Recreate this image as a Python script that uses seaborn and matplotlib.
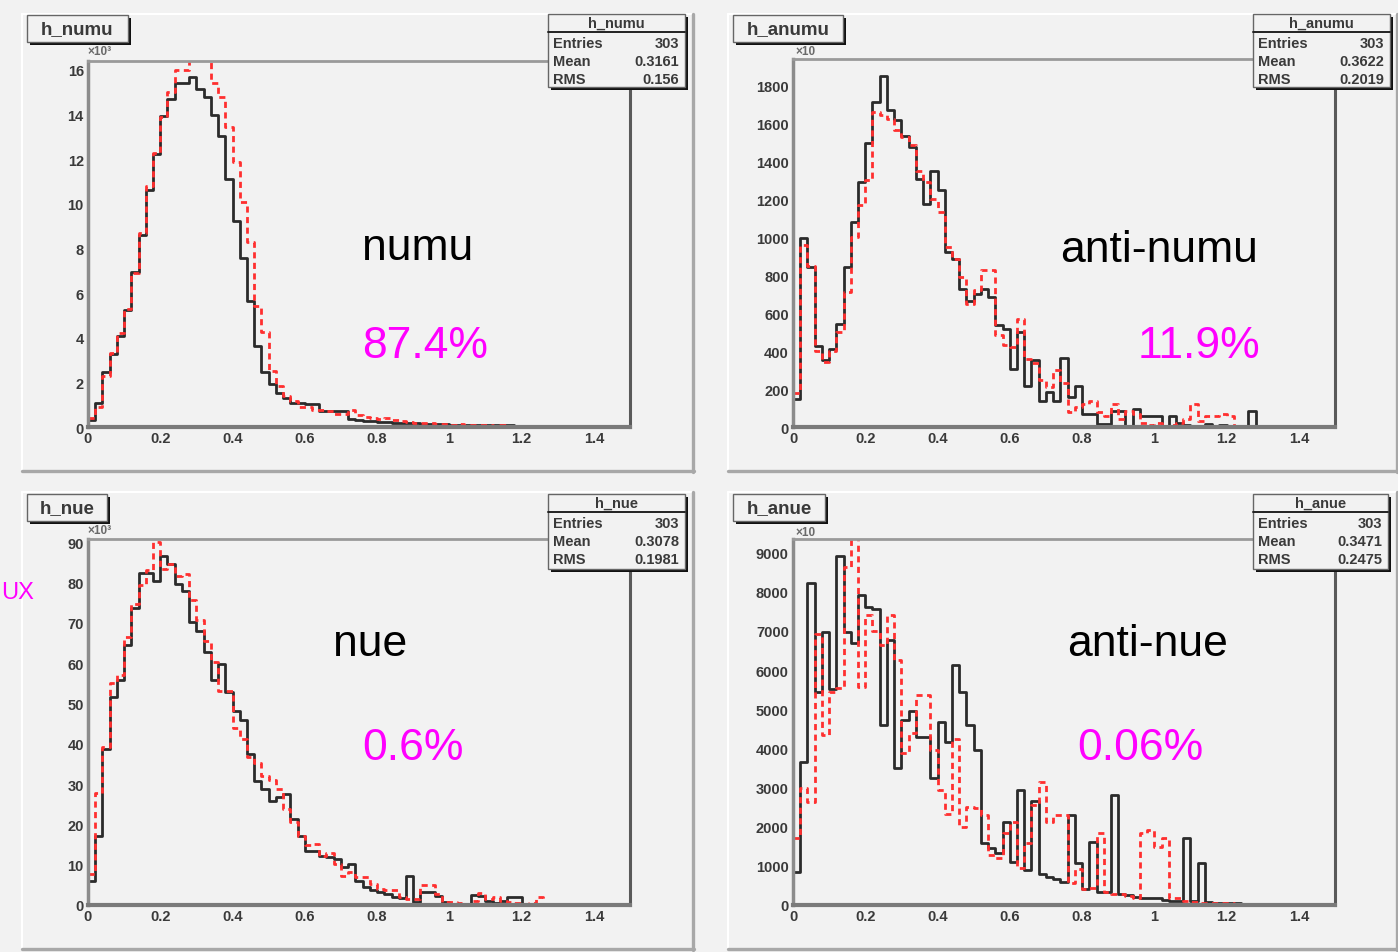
import numpy as np
import pandas as pd
import matplotlib
matplotlib.use("Agg")
import matplotlib.pyplot as plt
import seaborn as sns
from matplotlib.patches import Rectangle
from matplotlib.lines import Line2D
from matplotlib.ticker import MultipleLocator, FuncFormatter

# ------------------------------------------------------------------ data
bin_edges = [round(v, 3) for v in np.linspace(0.0, 1.5, 76)]      # 75 bins of 0.02
bin_centers = [round(0.5 * (a + b), 3) for a, b in zip(bin_edges[:-1], bin_edges[1:])]

# h_numu  (x10^3)
numu_black = [0.3, 1.08, 2.45, 3.27, 4.1, 5.26, 6.94, 8.6, 10.6, 12.24,
              13.93, 14.68, 15.43, 15.43, 15.7, 15.16, 14.77, 14.0, 13.06, 11.12,
              9.22, 7.56, 5.66, 3.65, 2.45, 1.93, 1.52, 1.29, 1.08, 1.08,
              1.05, 1.05, 0.73, 0.73, 0.72, 0.7, 0.36, 0.32, 0.28, 0.26,
              0.24, 0.22, 0.2, 0.2, 0.18, 0.17, 0.15, 0.14, 0.13, 0.12,
              0.11, 0.1, 0.1, 0.09, 0.09, 0.08, 0.08, 0.07, 0.07, 0.06,
              0.06, 0.06, 0.05, 0.05, 0.05, 0.04, 0.04, 0.04, 0.04, 0.03,
              0.03, 0.03, 0.03, 0.02, 0.02]
numu_red = [0.4, 0.9, 2.3, 3.3, 4.2, 5.3, 6.9, 8.7, 10.8, 12.3,
            13.9, 15.0, 16.0, 16.0, 16.5, 16.5, 16.5, 15.43, 14.78, 13.44,
            11.87, 10.1, 8.3, 5.44, 4.25, 2.53, 1.85, 1.4, 1.18, 0.88,
            0.88, 0.78, 0.78, 0.72, 0.6, 0.6, 0.75, 0.55, 0.45, 0.4,
            0.35, 0.4, 0.3, 0.25, 0.22, 0.2, 0.18, 0.16, 0.14, 0.12,
            0.1, 0.12, 0.1, 0.08, 0.1, 0.08, 0.06, 0.08, 0.06, 0.05,
            0.05, 0.05, 0.04, 0.05, 0.04, 0.03, 0.04, 0.03, 0.03, 0.03,
            0.02, 0.03, 0.02, 0.02, 0.02]

# h_anumu (x10)
anumu_black = [150, 996, 843, 429, 355, 412, 544, 843, 1080, 1292,
               1499, 1714, 1850, 1670, 1621, 1535, 1477, 1306, 1174, 1350,
               1248, 922, 887, 729, 662, 702, 725, 685, 538, 517,
               306, 503, 215, 355, 139, 183, 139, 364, 157, 218,
               69, 69, 16, 16, 86, 86, 0, 95, 60, 56,
               56, 0, 56, 20, 10, 0, 0, 15, 0, 10,
               0, 0, 0, 86, 0, 0, 0, 0, 0, 0,
               0, 0, 0, 0, 0]
anumu_red = [180, 960, 850, 400, 345, 400, 500, 711, 1000, 1170,
             1300, 1661, 1644, 1626, 1565, 1529, 1485, 1350, 1292, 1200,
             1133, 948, 887, 790, 650, 720, 830, 830, 485, 430,
             420, 570, 359, 340, 250, 210, 300, 230, 80, 104,
             120, 139, 77, 60, 120, 40, 86, 70, 20, 10,
             20, 0, 10, 20, 40, 120, 30, 60, 60, 69,
             60, 5, 5, 5, 5, 5, 5, 5, 5, 5,
             5, 5, 5, 5, 5]

# h_nue (x10^3)
nue_black = [6.0, 17.2, 38.7, 51.7, 55.9, 64.4, 73.7, 82.3, 82.3, 80.3,
             86.5, 84.6, 79.7, 77.9, 70.3, 67.9, 62.7, 55.9, 59.8, 52.8,
             48.1, 45.8, 37.5, 30.7, 28.8, 25.8, 26.9, 27.6, 21.4, 17.0,
             13.5, 13.5, 12.2, 12.0, 11.3, 9.4, 10.2, 6.0, 4.4, 3.6,
             3.2, 2.7, 1.9, 1.7, 7.1, 0.7, 3.3, 3.3, 2.3, 0.7,
             0.3, 0.3, 0.3, 2.5, 2.3, 1.1, 0.5, 1.1, 1.9, 1.9,
             0.3, 0.2, 0.2, 0.2, 0.2, 0.1, 0.1, 0.1, 0.1, 0.1,
             0.1, 0.1, 0.1, 0.1, 0.1]
nue_red = [7.7, 27.7, 39.2, 55.0, 57.0, 66.4, 74.7, 79.5, 83.0, 90.0,
           83.4, 84.5, 81.7, 82.0, 75.7, 70.6, 65.6, 60.2, 53.0, 53.2,
           44.0, 41.2, 36.7, 35.2, 31.9, 31.0, 28.8, 23.9, 20.5, 17.2,
           14.8, 15.1, 12.2, 12.9, 10.2, 7.3, 8.1, 6.9, 6.9, 5.2,
           4.0, 3.6, 3.6, 1.9, 1.5, 1.5, 5.0, 5.0, 2.7, 0.7,
           0.7, 0.4, 0.3, 1.0, 3.0, 1.5, 1.9, 1.0, 0.8, 0.5,
           0.3, 0.5, 1.9, 0.3, 0.2, 0.2, 0.2, 0.2, 0.2, 0.2,
           0.2, 0.2, 0.2, 0.2, 0.2]

# h_anue (x10)
anue_black = [850, 3660, 8217, 5450, 6982, 5517, 8923, 6982, 6684, 7919,
              7620, 7561, 4598, 6769, 3491, 4725, 4955, 4300, 4300, 3235,
              4683, 4172, 6130, 5432, 4598, 3959, 1575, 1447, 1319, 2128,
              1106, 2937, 894, 2656, 783, 723, 664, 596, 2298, 1064,
              408, 1617, 340, 323, 2810, 272, 255, 213, 187, 170,
              170, 128, 100, 100, 1703, 100, 1064, 85, 60, 50,
              40, 40, 30, 30, 30, 20, 20, 20, 20, 10,
              10, 10, 10, 10, 10]
anue_red = [1700, 2997, 2640, 6914, 4342, 5450, 5534, 8642, 9500, 5577,
            7408, 7000, 6641, 7408, 6258, 3874, 4385, 5364, 5364, 3959,
            2937, 2316, 4240, 2001, 2512, 2469, 2298, 1277, 1209, 1830,
            2111, 936, 1575, 2554, 3150, 2128, 2298, 2298, 553, 919,
            408, 425, 1830, 323, 272, 272, 238, 170, 1830, 1916,
            1490, 1703, 170, 170, 100, 80, 60, 50, 50, 40,
            40, 30, 30, 30, 20, 20, 20, 20, 10, 10,
            10, 10, 10, 10, 10]

hist_names = ["h_numu", "h_anumu", "h_nue", "h_anue"]
flavour_labels = ["numu", "anti-numu", "nue", "anti-nue"]
fractions = ["87.4%", "11.9%", "0.6%", "0.06%"]
stat_entries = ["303", "303", "303", "303"]
stat_means = ["0.3161", "0.3622", "0.3078", "0.3471"]
stat_rms = ["0.156", "0.2019", "0.1981", "0.2475"]
exponent_labels = ["×10³", "×10", "×10³", "×10"]
black_series = [numu_black, anumu_black, nue_black, anue_black]
red_series = [numu_red, anumu_red, nue_red, anue_red]

# ------------------------------------------------------------------ layout (pixels)
W, H = 1398, 953
BG = "#f2f2f2"
pads = [(22, 15, 694, 473), (728, 15, 1398, 473), (22, 493, 694, 951), (728, 493, 1398, 951)]
axes_px = [(88, 62, 630, 428), (793, 60, 1335, 428), (88, 540, 630, 906), (793, 540, 1335, 906)]
title_px = [(27, 16, 128, 43), (733, 16, 843, 43), (27, 495, 107, 522), (733, 495, 825, 522)]
stats_px = [(548, 15, 685, 88), (1253, 15, 1390, 88), (548, 495, 685, 570), (1253, 495, 1388, 570)]
label_px = [(362, 248), (1060, 250), (333, 645), (1067, 645)]
frac_px = [(362, 347), (1138, 347), (362, 748), (1077, 748)]
exp_px = [(88, 52), (795, 52), (88, 531), (795, 533)]
y_max = [16.4, 1940, 90.8, 9350]
y_major = [2, 200, 10, 1000]
y_minor = [0.5, 50, 2, 200]

sns.set_theme(style="white")
plt.rcParams["font.family"] = ["Liberation Sans", "DejaVu Sans"]

fig = plt.figure(figsize=(W / 100, H / 100), dpi=100)
fig.patch.set_facecolor(BG)


def X(x):
    return x / W


def Y(y):
    return 1 - y / H


def frect(x0, y0, x1, y1, **kw):
    r = Rectangle((X(x0), Y(y1)), (x1 - x0) / W, (y1 - y0) / H,
                  transform=fig.transFigure, **kw)
    fig.add_artist(r)
    return r


def fline(xs, ys, **kw):
    ln = Line2D([X(v) for v in xs], [Y(v) for v in ys], transform=fig.transFigure, **kw)
    fig.add_artist(ln)


def shadow_box(x0, y0, x1, y1, z=10, sh=3):
    frect(x0 + sh, y0 + sh, x1 + sh, y1 + sh, facecolor="#111111", edgecolor="none", zorder=z)
    frect(x0, y0, x1, y1, facecolor=BG, edgecolor="#666666", linewidth=1.0, zorder=z + 0.1)


# pads with bevel border
for (x0, y0, x1, y1) in pads:
    frect(x0, y0, x1, y1, facecolor=BG, edgecolor="none", zorder=-5)
    fline([x0, x1], [y0, y0], color="white", lw=1.5, zorder=-4)
    fline([x0, x0], [y0, y1], color="white", lw=1.5, zorder=-4)
    fline([x0, x1], [y1 - 1, y1 - 1], color="#a8a8a8", lw=2.4, zorder=-4)
    fline([x1 - 1, x1 - 1], [y0, y1], color="#a8a8a8", lw=2.4, zorder=-4)

fmt = FuncFormatter(lambda v, p: f"{v:g}")
TXT = "#3a3a3a"

for i in range(4):
    x0, y0, x1, y1 = axes_px[i]
    ax = fig.add_axes([X(x0), Y(y1), (x1 - x0) / W, (y1 - y0) / H])
    ax.set_facecolor(BG)

    df_b = pd.DataFrame({"E": bin_centers, "w": black_series[i]})
    df_r = pd.DataFrame({"E": bin_centers, "w": red_series[i]})
    sns.histplot(data=df_b, x="E", weights="w", bins=bin_edges, element="step",
                 fill=False, color="#2b2b2b", linewidth=2.0, ax=ax)
    sns.histplot(data=df_r, x="E", weights="w", bins=bin_edges, element="step",
                 fill=False, color="#ff2f2f", linewidth=2.0, linestyle=(0, (2.2, 1.6)), ax=ax)

    ax.set_xlim(0, 1.5)
    ax.set_ylim(0, y_max[i])
    ax.set_xlabel("")
    ax.set_ylabel("")
    ax.xaxis.set_major_locator(MultipleLocator(0.2))
    ax.xaxis.set_minor_locator(MultipleLocator(0.05))
    ax.yaxis.set_major_locator(MultipleLocator(y_major[i]))
    ax.yaxis.set_minor_locator(MultipleLocator(y_minor[i]))
    ax.xaxis.set_major_formatter(fmt)
    ax.yaxis.set_major_formatter(fmt)
    ax.tick_params(which="both", direction="in", top=False, right=False,
                   color="#333333", labelcolor=TXT, labelsize=10.5, width=1.5)
    ax.tick_params(axis="x", which="major", length=8.5, pad=3)
    ax.tick_params(axis="x", which="minor", length=4.3)
    ax.tick_params(axis="y", which="major", length=12, pad=3)
    ax.tick_params(axis="y", which="minor", length=6)
    for lab in ax.get_xticklabels() + ax.get_yticklabels():
        lab.set_fontweight("bold")
    ax.grid(False)
    ax.spines["left"].set(color="#8c8c8c", linewidth=2.5)
    ax.spines["bottom"].set(color="#7a7a7a", linewidth=3.0)
    ax.spines["top"].set(color="#9a9a9a", linewidth=2.0)
    ax.spines["right"].set(color="#5a5a5a", linewidth=2.2)

    # exponent label
    ex, ey = exp_px[i]
    fig.text(X(ex), Y(ey), exponent_labels[i], fontsize=8.5, color="#6a6a6a",
             ha="left", va="center", fontweight="bold")

    # title box
    tx0, ty0, tx1, ty1 = title_px[i]
    shadow_box(tx0, ty0, tx1, ty1)
    fig.text(X((tx0 + tx1) / 2), Y((ty0 + ty1) / 2), hist_names[i], fontsize=13.5,
             fontweight="bold", color=TXT, ha="center", va="center", zorder=11)

    # stats box
    sx0, sy0, sx1, sy1 = stats_px[i]
    shadow_box(sx0, sy0, sx1, sy1)
    fline([sx0, sx1], [sy0 + 18, sy0 + 18], color="#222222", lw=1.4, zorder=10.5)
    fig.text(X((sx0 + sx1) / 2), Y(sy0 + 9), hist_names[i], fontsize=10.5,
             fontweight="bold", color=TXT, ha="center", va="center", zorder=11)
    rows = [("Entries", stat_entries[i]), ("Mean", stat_means[i]), ("RMS", stat_rms[i])]
    for k, (nm, val) in enumerate(rows):
        ry = sy0 + 29 + 18 * k
        fig.text(X(sx0 + 5), Y(ry), nm, fontsize=10.5, fontweight="bold", color=TXT,
                 ha="left", va="center", zorder=11)
        fig.text(X(sx1 - 6), Y(ry), val, fontsize=10.5, fontweight="bold", color=TXT,
                 ha="right", va="center", zorder=11)

    # big labels
    lx, ly = label_px[i]
    fig.text(X(lx), Y(ly), flavour_labels[i], fontsize=32, color="black",
             ha="left", va="center")
    fx, fy = frac_px[i]
    fig.text(X(fx), Y(fy), fractions[i], fontsize=32, color="#ff00ff",
             ha="left", va="center")

# magenta text fragment at the left edge
fig.text(X(1), Y(593), "UX", fontsize=17, color="#ff00ff", ha="left", va="center")

fig.savefig("out.png", dpi=100, facecolor=BG)
